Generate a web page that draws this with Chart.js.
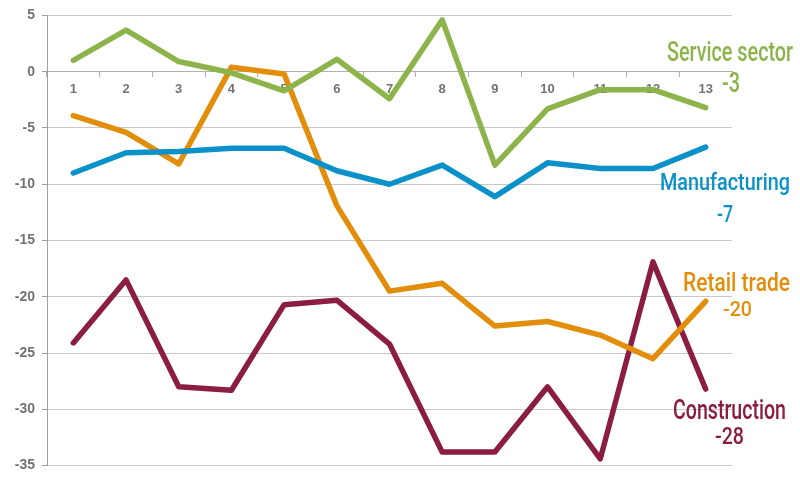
<!DOCTYPE html>
<html>
<head>
<meta charset="utf-8">
<script src="https://cdn.jsdelivr.net/npm/chart.js@4/dist/chart.umd.min.js"></script>
<style>
  html, body { margin: 0; padding: 0; background: #ffffff; }
  #wrap { width: 800px; height: 481px; position: relative; }
</style>
</head>
<body>
<div id="wrap"><canvas id="c" width="800" height="481"></canvas></div>
<script>
// ---- data ----
const categories = ['1','2','3','4','5','6','7','8','9','10','11','12','13'];
const serviceSector = [1.0, 3.7, 0.9, -0.1, -1.7, 1.1, -2.4, 4.6, -8.3, -3.3, -1.6, -1.6, -3.2];
const manufacturing = [-9.0, -7.2, -7.1, -6.8, -6.8, -8.8, -10.0, -8.3, -11.1, -8.1, -8.6, -8.6, -6.7];
const retailTrade = [-3.9, -5.4, -8.2, 0.4, -0.2, -11.9, -19.5, -18.8, -22.6, -22.2, -23.4, -25.5, -20.4];
const construction = [-24.1, -18.5, -28.0, -28.3, -20.7, -20.3, -24.2, -33.8, -33.8, -28.0, -34.4, -16.9, -28.2];
const seriesNames = ['Service sector', 'Manufacturing', 'Retail trade', 'Construction'];
const endLabels = ['-3', '-7', '-20', '-28'];
const yTicks = [5, 0, -5, -10, -15, -20, -25, -30, -35];

const colors = ['#8db44a', '#0b91c9', '#e38e0b', '#8b1d43'];

// label placement (name box and value box: left, right, baseline, cap height)
const labelBoxes = [
  { name: [667, 793, 61, 19], val: [722, 740, 92, 19] },
  { name: [660, 790, 190, 17], val: [717, 733, 222, 17] },
  { name: [683, 790, 291, 18], val: [723, 752, 316, 14] },
  { name: [673, 786, 419, 19], val: [715, 744, 444, 17] }
];

const labelPlugin = {
  id: 'endLabels',
  afterDatasetsDraw(chart) {
    const ctx = chart.ctx;
    const fam = 'Roboto, "Noto Sans", sans-serif';
    function drawFit(text, box, color) {
      const [l, r, base, cap] = box;
      const size = cap / 0.71;
      ctx.save();
      ctx.font = '500 ' + size + 'px ' + fam;
      ctx.fillStyle = color;
      ctx.textBaseline = 'alphabetic';
      ctx.textAlign = 'left';
      const w = ctx.measureText(text).width;
      const sx = (r - l) / w;
      ctx.translate(l, base);
      ctx.scale(sx, 1);
      ctx.fillText(text, 0, 0);
      ctx.restore();
    }
    seriesNames.forEach((n, i) => {
      drawFit(n, labelBoxes[i].name, colors[i]);
      drawFit(endLabels[i], labelBoxes[i].val, colors[i]);
    });
  }
};

const seriesData = [serviceSector, manufacturing, retailTrade, construction];

new Chart(document.getElementById('c'), {
  type: 'line',
  data: {
    labels: categories,
    datasets: seriesNames.map((n, i) => ({
      label: n,
      data: seriesData[i],
      borderColor: colors[i],
      backgroundColor: colors[i],
      borderWidth: 5.5,
      pointRadius: 0,
      tension: 0,
      borderCapStyle: 'round',
      borderJoinStyle: 'round',
      fill: false
    }))
  },
  options: {
    responsive: false,
    devicePixelRatio: 1,
    animation: false,
    layout: { padding: { top: 14, right: 68, bottom: 14, left: 0 } },
    plugins: { legend: { display: false }, tooltip: { enabled: false } },
    scales: {
      x: {
        type: 'category',
        position: { y: 0 },
        offset: true,
        grid: { display: true, drawOnChartArea: false, offset: true, tickLength: 5, color: '#b0b0b0' },
        border: { color: '#b0b0b0' },
        ticks: { color: '#737373', font: { family: '"Liberation Sans", Arial', size: 13, weight: 'bold' }, padding: 5, maxRotation: 0 }
      },
      y: {
        min: -35, max: 5,
        afterBuildTicks(scale) { scale.ticks = yTicks.map(v => ({ value: v })); },
        afterFit(scale) { scale.width = 47; },
        grid: { color: '#c8c8c8', tickLength: 5, tickColor: '#a0a0a0' },
        border: { color: '#a0a0a0' },
        ticks: { color: '#737373', font: { family: '"Liberation Sans", Arial', size: 14, weight: 'bold' }, padding: 7 }
      }
    }
  },
  plugins: [labelPlugin]
});
</script>
</body>
</html>
